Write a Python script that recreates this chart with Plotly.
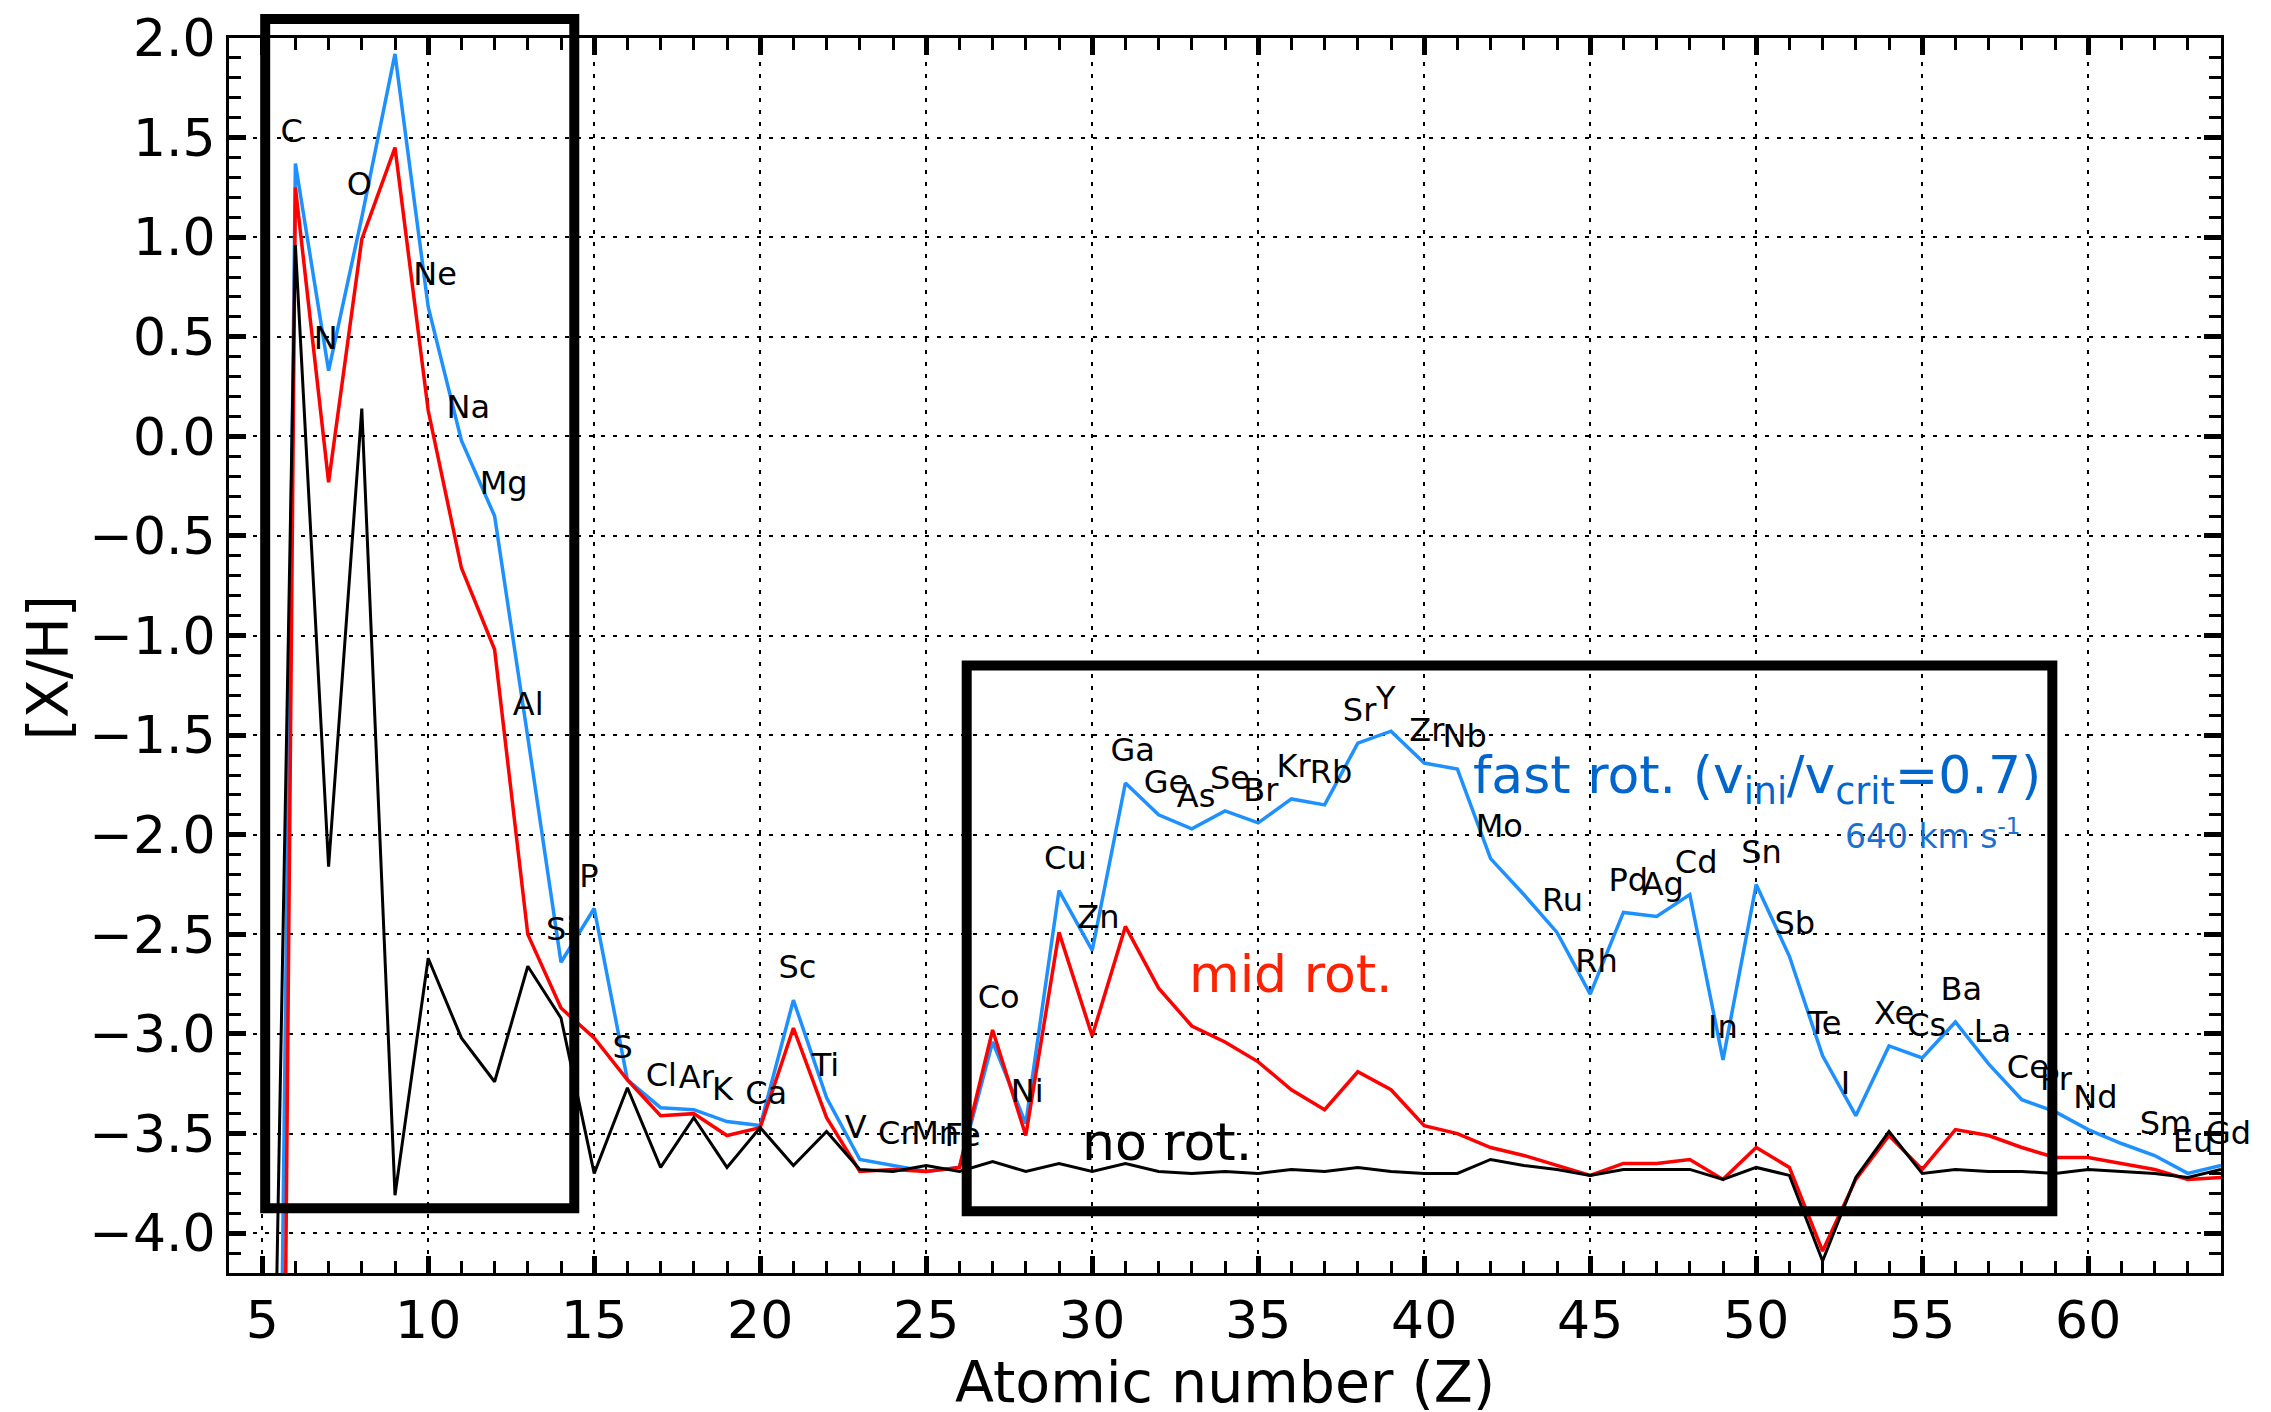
import plotly.graph_objects as go

# ---------------- data ----------------
Z = list(range(5, 65))
symbols = ["B", "C", "N", "O", "F", "Ne", "Na", "Mg", "Al", "Si", "P", "S", "Cl", "Ar", "K", "Ca",
           "Sc", "Ti", "V", "Cr", "Mn", "Fe", "Co", "Ni", "Cu", "Zn", "Ga", "Ge", "As", "Se", "Br",
           "Kr", "Rb", "Sr", "Y", "Zr", "Nb", "Mo", "Tc", "Ru", "Rh", "Pd", "Ag", "Cd", "In", "Sn",
           "Sb", "Te", "I", "Xe", "Cs", "Ba", "La", "Ce", "Pr", "Nd", "Pm", "Sm", "Eu", "Gd"]
unlabelled = ["B", "F", "Tc", "Pm"]

fast_rot = [-12.9, 1.37, 0.33, 1.10, 1.92, 0.65, -0.02, -0.40, -1.51, -2.64,
            -2.37, -3.23, -3.37, -3.38, -3.44, -3.46, -2.83, -3.32, -3.63, -3.66,
            -3.69, -3.67, -3.04, -3.45, -2.28, -2.58, -1.74, -1.90, -1.97, -1.88,
            -1.94, -1.82, -1.85, -1.54, -1.48, -1.64, -1.67, -2.12, -2.30, -2.49,
            -2.80, -2.39, -2.41, -2.30, -3.13, -2.25, -2.61, -3.11, -3.41, -3.06,
            -3.12, -2.94, -3.15, -3.33, -3.39, -3.48, -3.55, -3.61, -3.70, -3.66]

mid_rot = [-17.5, 1.25, -0.23, 0.99, 1.45, 0.13, -0.66, -1.07, -2.50, -2.87,
           -3.02, -3.23, -3.41, -3.40, -3.51, -3.47, -2.97, -3.42, -3.69, -3.68,
           -3.69, -3.67, -2.98, -3.51, -2.49, -3.01, -2.46, -2.77, -2.96, -3.04,
           -3.14, -3.28, -3.38, -3.19, -3.28, -3.46, -3.50, -3.57, -3.61, -3.66,
           -3.71, -3.65, -3.65, -3.63, -3.73, -3.57, -3.67, -4.09, -3.73, -3.51,
           -3.68, -3.48, -3.51, -3.57, -3.62, -3.62, -3.65, -3.68, -3.73, -3.72]

no_rot = [-8.3, 0.96, -2.16, 0.14, -3.81, -2.62, -3.02, -3.24, -2.66, -2.92,
          -3.70, -3.27, -3.67, -3.42, -3.67, -3.47, -3.66, -3.49, -3.68, -3.69,
          -3.66, -3.69, -3.64, -3.69, -3.65, -3.69, -3.65, -3.69, -3.70, -3.69,
          -3.70, -3.68, -3.69, -3.67, -3.69, -3.70, -3.70, -3.63, -3.66, -3.68,
          -3.71, -3.68, -3.68, -3.68, -3.73, -3.67, -3.71, -4.14, -3.72, -3.49,
          -3.70, -3.68, -3.69, -3.69, -3.70, -3.68, -3.69, -3.70, -3.72, -3.68]

X_RANGE = [4, 64]
Y_RANGE = [-4.2, 2.0]

# ---------------- style ----------------
FONT = "DejaVu Sans"
BLUE = "#1E90FF"
RED = "#FF0000"
LABEL_DX = -0.45      # label left edge relative to Z (data units)
LABEL_DY = 0.15       # label offset above the highest curve

fig = go.Figure()

fig.add_trace(go.Scatter(x=Z, y=fast_rot, mode="lines", line=dict(color=BLUE, width=3.5),
                         showlegend=False, hoverinfo="skip"))
fig.add_trace(go.Scatter(x=Z, y=mid_rot, mode="lines", line=dict(color=RED, width=3.5),
                         showlegend=False, hoverinfo="skip"))
fig.add_trace(go.Scatter(x=Z, y=no_rot, mode="lines", line=dict(color="black", width=3),
                         showlegend=False, hoverinfo="skip"))

# element labels
lx, ly, lt = [], [], []
for z, s, a, b, c in zip(Z, symbols, fast_rot, mid_rot, no_rot):
    if s in unlabelled:
        continue
    lx.append(z + LABEL_DX)
    ly.append(max(a, b, c) + LABEL_DY)
    lt.append(s)
fig.add_trace(go.Scatter(x=lx, y=ly, text=lt, mode="text", textposition="middle right",
                         textfont=dict(family=FONT, size=32, color="black"),
                         cliponaxis=False, showlegend=False, hoverinfo="skip"))


def px(x):
    return (x - X_RANGE[0]) / (X_RANGE[1] - X_RANGE[0])


def py(y):
    return (y - Y_RANGE[0]) / (Y_RANGE[1] - Y_RANGE[0])


boxes = [(5.09, 14.40, -3.875, 2.095), (26.22, 58.92, -3.89, -1.15)]
for x0, x1, y0, y1 in boxes:
    fig.add_shape(type="rect", xref="paper", yref="paper",
                  x0=px(x0), x1=px(x1), y0=py(y0), y1=py(y1),
                  line=dict(color="black", width=10), fillcolor="rgba(0,0,0,0)", layer="above")

# curve annotations
fig.add_annotation(x=29.64, y=-3.54, xref="x", yref="y", text="no rot.", showarrow=False,
                   xanchor="left", yanchor="middle", font=dict(family=FONT, size=52, color="black"))
fig.add_annotation(x=32.85, y=-2.70, xref="x", yref="y", text="mid rot.", showarrow=False,
                   xanchor="left", yanchor="middle", font=dict(family=FONT, size=52, color="#FF2200"))
fig.add_annotation(x=41.42, y=-1.72, xref="x", yref="y",
                   text="fast rot. (v<sub>ini</sub>/v<sub>crit</sub>=0.7)", showarrow=False,
                   xanchor="left", yanchor="middle", font=dict(family=FONT, size=52, color="#0066CC"))
fig.add_annotation(x=52.6, y=-2.00, xref="x", yref="y", text="640 km s<sup>-1</sup>",
                   showarrow=False, xanchor="left", yanchor="middle",
                   font=dict(family=FONT, size=33, color="#1A70D0"))

# axis titles
fig.add_annotation(x=0.5, y=-0.088, xref="paper", yref="paper", text="Atomic number (Z)",
                   showarrow=False, xanchor="center", yanchor="middle",
                   font=dict(family=FONT, size=57, color="black"))
fig.add_annotation(x=-0.091, y=0.49, xref="paper", yref="paper", text="[X/H]", textangle=-90,
                   showarrow=False, xanchor="center", yanchor="middle",
                   font=dict(family=FONT, size=57, color="black"))

axis_common = dict(
    showline=True, linecolor="black", linewidth=3, mirror="ticks",
    ticks="inside", ticklen=17, tickwidth=5, tickcolor="black",
    showgrid=True, gridcolor="black", gridwidth=2, griddash="4px,8px",
    zeroline=False, automargin=False, tickfont=dict(family=FONT, size=52, color="black"),
)

fig.update_xaxes(range=X_RANGE, dtick=5, tick0=0,
                 minor=dict(dtick=1, ticks="inside", ticklen=12, tickwidth=2.5,
                            tickcolor="black", showgrid=False),
                 **axis_common)
fig.update_yaxes(range=Y_RANGE, dtick=0.5, tick0=0, tickformat=".1f",
                 minor=dict(dtick=0.1, ticks="inside", ticklen=12, tickwidth=2.5,
                            tickcolor="black", showgrid=False),
                 **axis_common)

# the page body adds an 8 px margin, so the figure is 8 px smaller and shifted margins
fig.update_layout(width=2263, height=1404, plot_bgcolor="white", paper_bgcolor="white",
                  margin=dict(l=221, r=50, t=30, b=139), font=dict(family=FONT))

fig.write_html("out.html")
